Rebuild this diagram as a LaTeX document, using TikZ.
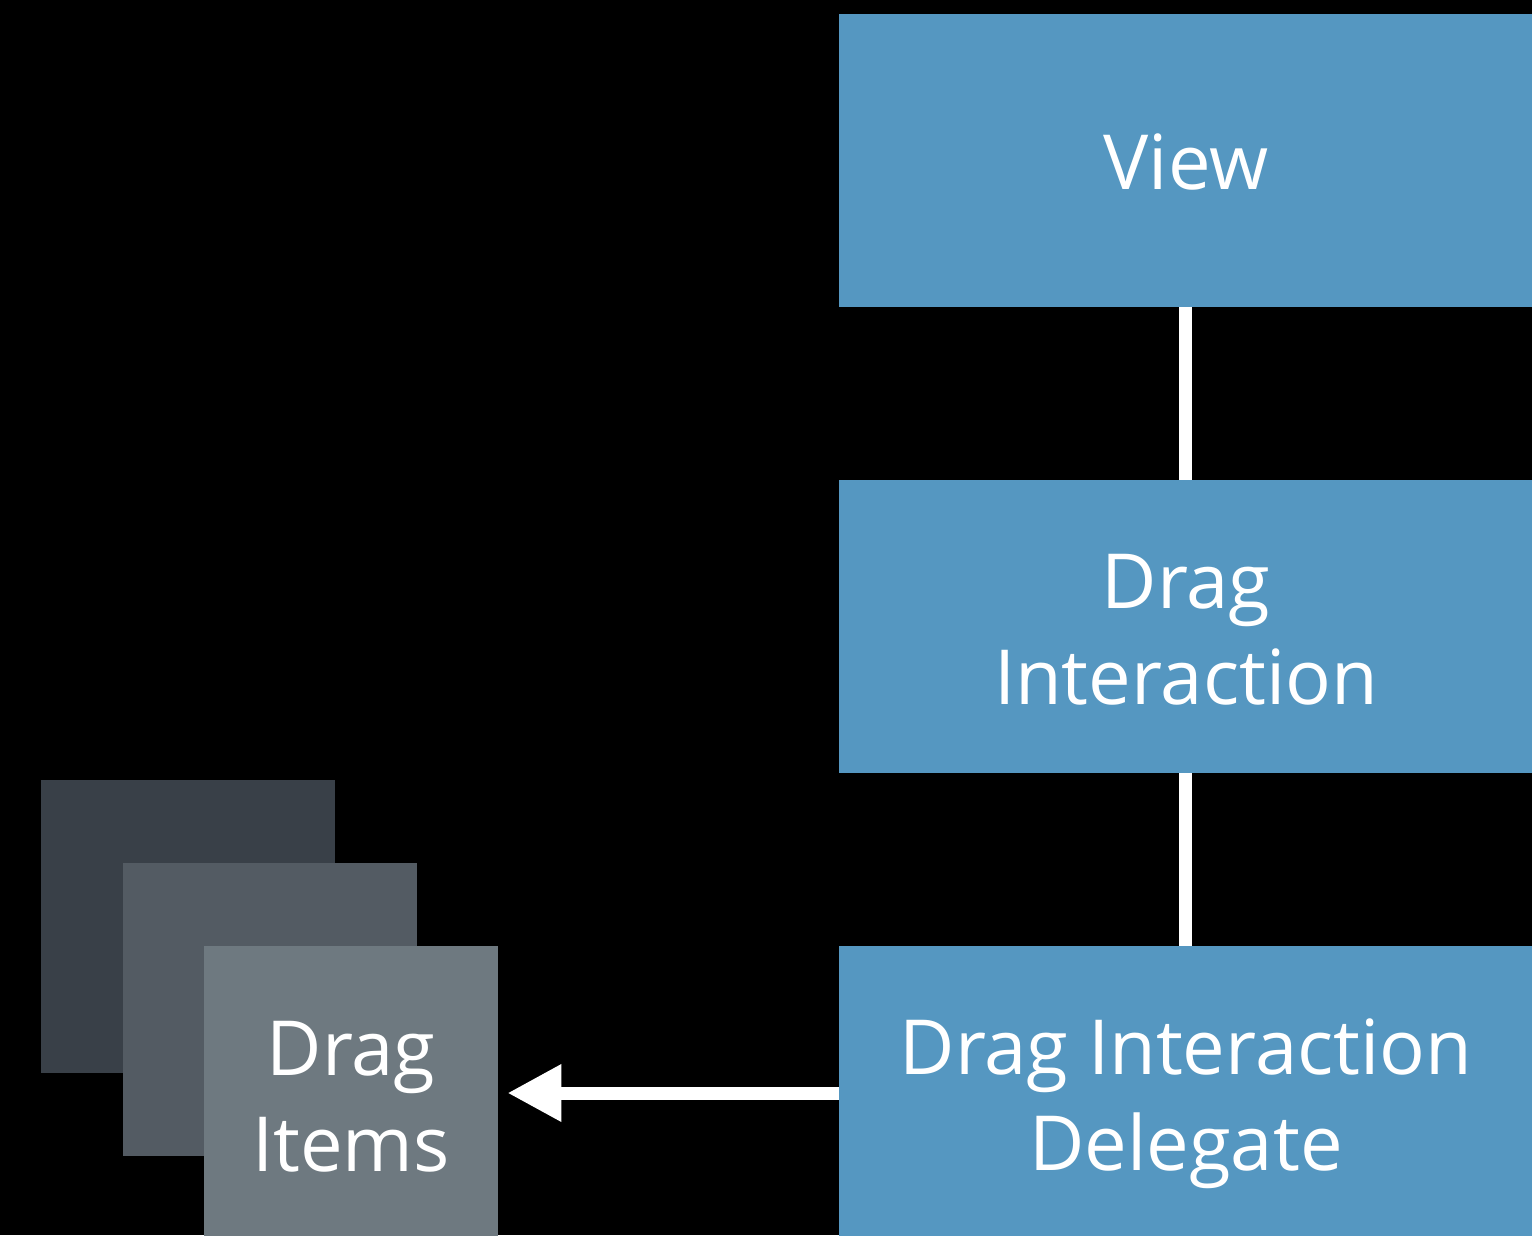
\documentclass[tikz,border=0pt]{standalone}
\usepackage{fontspec}
\setmainfont{Open Sans}
\usetikzlibrary{arrows.meta}
\definecolor{boxblue}{HTML}{5597C1}
\definecolor{itemdark}{HTML}{394048}
\definecolor{itemmid}{HTML}{535B63}
\definecolor{itemlight}{HTML}{6E7980}
\begin{document}
\begin{tikzpicture}[x=1pt,y=-1pt,
  bluebox/.style={fill=boxblue, inner sep=0pt, minimum width=693pt, minimum height=293pt, anchor=north west},
  itembox/.style={inner sep=0pt, minimum width=294pt, minimum height=293pt, anchor=north west},
  lbl/.style={text=white, align=center, font=\fontsize{76}{96}\selectfont},
  link/.style={draw=white, line width=13pt},
  pointer/.style={draw=white, line width=13pt, -{Triangle[length=54pt,width=54pt]}}]
  \fill[black] (0,0) rectangle (1532,1235);
  \useasboundingbox (0,0) rectangle (1532,1235);
  % stack of drag items
  \node[itembox, fill=itemdark]  (back)  at (41,780) {};
  \node[itembox, fill=itemmid]   (mid)   at (123,863) {};
  \node[itembox, fill=itemlight] (items) at (204,946) {};
  \node[lbl] (itemstxt) at (351,1097) {Drag\\Items};
  % blue column
  \node[bluebox] (view) at (839,14) {};
  \node[bluebox] (inter) at (839,480) {};
  \node[bluebox] (deleg) at (839,946) {};
  \node[lbl] (viewtxt) at (1186,162) {View};
  \node[lbl] (intertxt) at (1186,630) {Drag\\Interaction};
  \node[lbl] (delegtxt) at (1186,1104) {Drag Interaction\\Delegate};
  % connectors
  \draw[link] (view.south) -- (inter.north);
  \draw[link] (inter.south) -- (deleg.north);
  \draw[pointer, shorten >=9pt] (deleg.west |- 0,1093) -- (items.east |- 0,1093);
\end{tikzpicture}
\end{document}
